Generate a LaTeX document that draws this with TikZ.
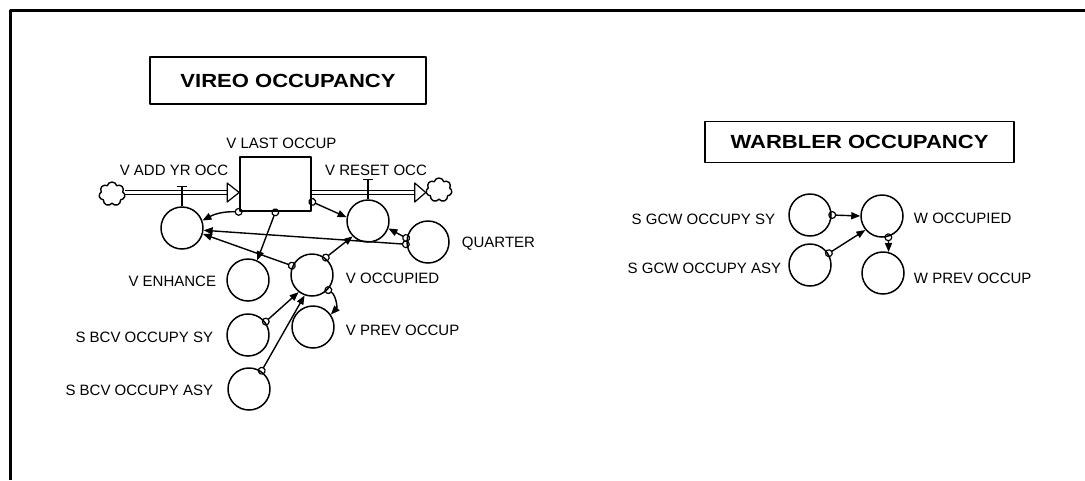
\documentclass[tikz,border=0pt]{standalone}
\usepackage{fontspec}
\setmainfont{Liberation Sans}
\usetikzlibrary{arrows.meta,calc,positioning,shapes.symbols}

\begin{document}
\begin{tikzpicture}[x=1pt,y=-1pt,line join=round,
    conv/.style={circle,draw,line width=1.5pt,minimum size=42pt,inner sep=0pt},
    stockbox/.style={draw,line width=1.7pt,minimum width=71pt,minimum height=54pt,inner sep=0pt},
    lbl/.style={inner sep=0pt,font=\fontsize{15}{15}\selectfont},
    title/.style={draw,line width=1.8pt,inner sep=0pt,font=\fontsize{19}{19}\selectfont\bfseries},
    sink/.style={cloud,cloud puffs=7,aspect=1.05,draw,line width=1.4pt,minimum width=26pt,minimum height=24pt,inner sep=0pt},
    pipe/.style={double,double distance=3.5pt,line width=1.2pt},
    valvebar/.style={line width=1.4pt},
    link/.style={line width=1.4pt,shorten <=-3.5pt,arrows={Circle[open,length=8pt,line width=1.2pt]-Triangle[length=9pt,width=7pt]}}]
  \useasboundingbox (0,0) rectangle (1085,480);
  % frame, cut off at right and bottom
  \draw[line width=3pt] (10,480) -- (10,10) -- (1085,10);

  % titles
  \node[title,minimum width=276pt,minimum height=47pt] (vtitle) at (288,80.5) {\scalebox{1.16}[1]{VIREO OCCUPANCY}};
  \node[title,minimum width=309pt,minimum height=41pt] (wtitle) at (859.5,142) {\scalebox{1.16}[1]{WARBLER OCCUPANCY}};

  % vireo stock and flows
  \node[stockbox] (lastoccup) at (275.5,184) {};
  \node[lbl,above=7pt of lastoccup,xshift=6pt] (lastlbl) {V LAST OCCUP};
  \node[sink] (srcL) at (112,194) {};
  \node[sink] (sinkR) at (439,190) {};
  \node[conv] (addrate) at (182,228) {};
  \node[conv] (resetrate) at (368,221) {};
  \node[lbl] (addlbl) at (174,170) {V ADD YR OCC};
  \node[lbl] (resetlbl) at (376,170) {V RESET OCC};

  \coordinate (inL) at ($(lastoccup.west)+(0,8.5)$);
  \coordinate (outR) at (sinkR.west |- inL);
  \draw[pipe] (srcL.east |- inL) -- ($(inL)+(-12,0)$);
  \draw[line width=1.2pt,fill=white] (inL) -- ++(-12,-9.5) -- ++(0,19) -- cycle;
  \draw[pipe] (lastoccup.east |- inL) -- ($(outR)+(-11,0)$);
  \draw[line width=1.2pt,fill=white] (outR) -- ++(-11,-9.5) -- ++(0,19) -- cycle;
  \draw[valvebar] ($(addrate.north)+(-5,-20)$) -- ++(10,0) ($(addrate.north)+(0,-20)$) -- (addrate.north);
  \draw[valvebar] ($(resetrate.north)+(-5,-20)$) -- ++(10,0) ($(resetrate.north)+(0,-20)$) -- (resetrate.north);

  % vireo converters
  \node[conv] (quarter) at (428,242) {};
  \node[conv] (enhance) at (248,280) {};
  \node[conv] (voccup) at (312,275) {};
  \node[conv] (vprev) at (313,327) {};
  \node[conv] (bcvsy) at (248,335) {};
  \node[conv] (bcvasy) at (249,389) {};
  \node[lbl,right=12pt of quarter,yshift=-2pt] (quarterlbl) {QUARTER};
  \node[lbl,left=10pt of enhance,yshift=-1pt] (enhancelbl) {V ENHANCE};
  \node[lbl,right=12pt of voccup,yshift=-3pt] (voccuplbl) {V OCCUPIED};
  \node[lbl,right=11pt of vprev,yshift=-3pt] (vprevlbl) {V PREV OCCUP};
  \node[lbl,left=13pt of bcvsy,yshift=-2pt] (bcvsylbl) {S BCV OCCUPY SY};
  \node[lbl,left=14pt of bcvasy,yshift=-1pt] (bcvasylbl) {S BCV OCCUPY ASY};

  % warbler converters
  \node[conv] (gcwsy) at (810,215) {};
  \node[conv] (woccup) at (882,216) {};
  \node[conv] (gcwasy) at (810,265) {};
  \node[conv] (wprev) at (883,273) {};
  \node[lbl,left=13pt of gcwsy,yshift=-4pt] (gcwsylbl) {S GCW OCCUPY SY};
  \node[lbl,left=7pt of gcwasy,yshift=-3pt] (gcwasylbl) {S GCW OCCUPY ASY};
  \node[lbl,right=10pt of woccup,yshift=-2pt] (woccuplbl) {W OCCUPIED};
  \node[lbl,right=9pt of wprev,yshift=-5pt] (wprevlbl) {W PREV OCCUP};

  % connectors
  \draw[link] (lastoccup.south west) to[bend right=15] (addrate.20);
  \draw[link] (lastoccup.south) -- (enhance.65);
  \draw[link] (lastoccup.-26) -- (resetrate.170);
  \draw[link] (quarter.170) -- (resetrate.-20);
  \draw[link] (quarter.186) -- (addrate.-6);
  \draw[link] (voccup.155) -- (addrate.-16);
  \draw[link] (voccup.52) -- (resetrate.-135);
  \draw[link] (voccup.-43) to[bend left=50] (vprev.35);
  \draw[link] (bcvsy.37) -- (voccup.-128);
  \draw[link] (bcvasy.55) -- (voccup.-110);
  \draw[link] (gcwsy.east) -- (woccup.west);
  \draw[link] (gcwasy.32) -- (woccup.-140);
  \draw[link] (woccup.-73) -- (wprev.75);
\end{tikzpicture}
\end{document}
